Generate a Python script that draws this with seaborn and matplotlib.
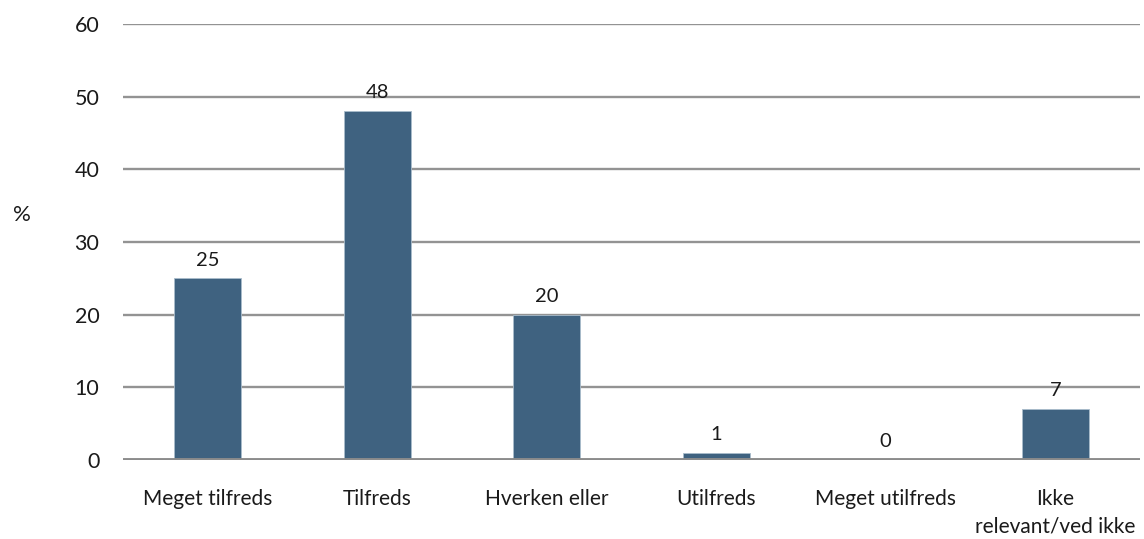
import matplotlib
matplotlib.use("Agg")
import matplotlib.pyplot as plt
import seaborn as sns
import pandas as pd

categories = ["Meget tilfreds", "Tilfreds", "Hverken eller", "Utilfreds",
              "Meget utilfreds", "Ikke\nrelevant/ved ikke"]
values = [25, 48, 20, 1, 0, 7]
y_ticks = [0, 10, 20, 30, 40, 50, 60]

sns.set_theme(style="white")
plt.rcParams["font.family"] = ["Lato", "DejaVu Sans"]

df = pd.DataFrame({"kategori": categories, "pct": values})

fig = plt.figure(figsize=(11.44, 5.39), dpi=100)
ax = fig.add_axes([0.1075, 0.1466, 0.889, 0.809])

ax.set_axisbelow(True)
for t in y_ticks[1:]:
    ax.axhline(t, color="#939393", lw=1.7, zorder=0)

sns.barplot(data=df, x="kategori", y="pct", color="#3f6280", saturation=1,
            width=0.395, edgecolor="#a9bccb", linewidth=0.6, ax=ax, zorder=2)
ax.axhline(0, color="#8c8c8c", lw=2.8, zorder=3)

for i, v in enumerate(values):
    ax.annotate(str(v), (i, v), xytext=(0, 7), textcoords="offset points",
                ha="center", va="bottom", fontsize=14.5, color="#1a1a1a")

ax.set_xlim(-0.5, 5.5)
ax.set_ylim(0, 60)
ax.set_yticks(y_ticks)
ax.set_yticklabels([str(t) for t in y_ticks], fontsize=15.5, color="#1a1a1a")
ax.set_xticks(range(len(categories)))
ax.set_xticklabels(categories, fontsize=15, color="#1a1a1a", linespacing=1.45)
ax.tick_params(axis="x", pad=21, length=0)
ax.tick_params(axis="y", pad=17, length=0)
ax.set_xlabel("")
ax.set_ylabel("")
for s in ax.spines.values():
    s.set_visible(False)

fig.text(22 / 1144, 1 - 215 / 539, "%", fontsize=16, color="#1a1a1a",
         ha="center", va="center")

fig.savefig("out.png", dpi=100)
